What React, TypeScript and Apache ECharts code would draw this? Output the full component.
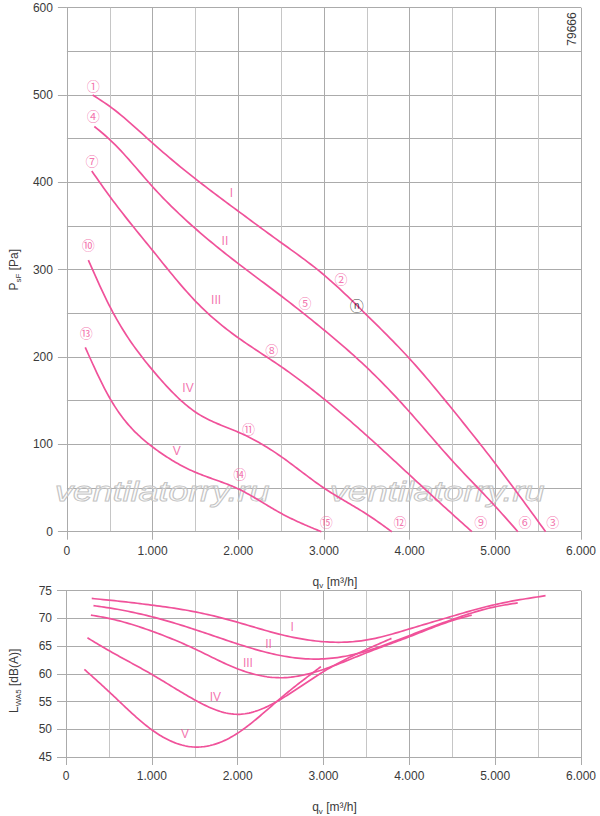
import React, { useEffect, useRef } from "react";
import * as echarts from "echarts";

// ---------- Data ----------
// Pressure curves P_sF [Pa] vs q_v [m3/h]
const pressureI: number[][] = [[300, 500], [500, 487], [1000, 445], [1500, 404], [2000, 367], [2500, 331], [3000, 294], [3500, 248], [4000, 198], [4500, 140], [5000, 78], [5587, 0]];
const pressureII: number[][] = [[320, 464], [500, 449], [1000, 395], [1500, 347], [2000, 307], [2500, 270], [3000, 231], [3500, 188], [4000, 137], [4500, 81], [5000, 29], [5263, 0]];
const pressureIII: number[][] = [[290, 413], [500, 384], [1000, 322], [1500, 264], [2000, 222], [2500, 189], [3000, 152], [3500, 110], [4000, 65], [4500, 20], [4727, 0]];
const pressureIV: number[][] = [[250, 311], [500, 258], [1000, 185], [1500, 137], [2000, 114], [2500, 86], [3000, 50], [3500, 20], [3792, 0]];
const pressureV: number[][] = [[214, 211], [500, 153], [1000, 97], [1500, 68], [2000, 49], [2500, 21], [2970, 0]];

// Sound power L_WA5 [dB(A)] vs q_v [m3/h]
const noiseI: number[][] = [[300, 73.6], [500, 73.3], [1000, 72.4], [1500, 71.2], [2000, 69.3], [2500, 67.1], [3000, 65.8], [3500, 66.1], [4000, 68.1], [4500, 70.4], [5000, 72.5], [5587, 74.1]];
const noiseII: number[][] = [[320, 72.3], [500, 71.9], [1000, 70.3], [1500, 68.0], [2000, 65.4], [2500, 63.3], [3000, 62.7], [3500, 64.1], [4000, 66.9], [4500, 69.8], [5000, 72.1], [5263, 72.8]];
const noiseIII: number[][] = [[290, 70.6], [500, 70.0], [1000, 67.7], [1500, 64.5], [2000, 60.9], [2500, 59.3], [3000, 60.8], [3500, 63.8], [4000, 66.7], [4500, 69.6], [4727, 70.6]];
const noiseIV: number[][] = [[250, 66.5], [500, 64.2], [1000, 59.9], [1500, 55.3], [2000, 52.7], [2500, 55.4], [3000, 60.4], [3500, 64.4], [3792, 66.4]];
const noiseV: number[][] = [[214, 60.8], [500, 56.8], [1000, 49.9], [1500, 46.8], [2000, 49.3], [2500, 55.6], [2970, 61.3]];

// Curve labels (Roman numerals) and operating point markers
const pressureRoman: (number | string)[][] = [[1921, 388, "I"], [1844, 333, "II"], [1741, 265, "III"], [1413, 164, "IV"], [1283, 92, "V"]];
const pressurePoints: (number | string)[][] = [
  [306, 511, "①"], [3200, 290, "②"], [5670, 11.5, "③"],
  [306, 476, "④"], [2780, 262, "⑤"], [5346, 11.5, "⑥"],
  [294, 425, "⑦"], [2391, 209, "⑧"], [4831, 11.5, "⑨"],
  [249, 329, "⑩"], [2120, 118, "⑪"], [3887, 11.5, "⑫"],
  [226, 228, "⑬"], [2016, 67, "⑭"], [3028, 11.5, "⑮"],
];
const efficiencyPoint: (number | string)[][] = [[3384, 260, "ⓝ"]];
const noiseRoman: (number | string)[][] = [[2635, 68.4, "I"], [2360, 65.4, "II"], [2119, 61.9, "III"], [1741, 55.9, "IV"], [1386, 49.2, "V"]];

const xMin = 0, xMax = 6000, xStep = 1000;
const pMin = 0, pMax = 600, pStep = 100;
const lMin = 45, lMax = 75, lStep = 5;

// ---------- Styles ----------
const PINK = "#f0529a";
const GRID = "#ababab";
const GRID_MINOR = "#c6c6c6";
const TXT = "#3a3a3a";
const FONT = "Liberation Sans, Arial, sans-serif";

const fmtThousands = (v: number) => {
  if (v === 0) return "0";
  const s = String(Math.round(v));
  return s.replace(/\B(?=(\d{3})+(?!\d))/g, ".");
};

const nameRich = {
  a: { fontSize: 12, color: TXT, fontFamily: FONT, lineHeight: 16, verticalAlign: "middle" },
  s: { fontSize: 8, color: TXT, fontFamily: FONT, lineHeight: 16, verticalAlign: "bottom", padding: [6, 0, 0, 0] },
};

// Natural cubic spline through the read points (y as a function of x)
function naturalSpline(pts: number[][]) {
  const n = pts.length;
  const xs = pts.map((p) => p[0]);
  const ys = pts.map((p) => p[1]);
  const h: number[] = [];
  for (let i = 0; i < n - 1; i++) h.push(xs[i + 1] - xs[i]);
  const M = new Array(n).fill(0);
  if (n > 2) {
    const m = n - 2;
    const a = new Array(m).fill(0), b = new Array(m).fill(0), c = new Array(m).fill(0), d = new Array(m).fill(0);
    for (let k = 0; k < m; k++) {
      const i = k + 1;
      a[k] = h[i - 1];
      b[k] = 2 * (h[i - 1] + h[i]);
      c[k] = h[i];
      d[k] = 6 * ((ys[i + 1] - ys[i]) / h[i] - (ys[i] - ys[i - 1]) / h[i - 1]);
    }
    for (let k = 1; k < m; k++) {
      const w = a[k] / b[k - 1];
      b[k] -= w * c[k - 1];
      d[k] -= w * d[k - 1];
    }
    const sol = new Array(m).fill(0);
    sol[m - 1] = d[m - 1] / b[m - 1];
    for (let k = m - 2; k >= 0; k--) sol[k] = (d[k] - c[k] * sol[k + 1]) / b[k];
    for (let k = 0; k < m; k++) M[k + 1] = sol[k];
  }
  return (x: number) => {
    let i = 0;
    while (i < n - 2 && x > xs[i + 1]) i++;
    const hi = h[i];
    const A = xs[i + 1] - x;
    const B = x - xs[i];
    return (
      (M[i] * A * A * A) / (6 * hi) +
      (M[i + 1] * B * B * B) / (6 * hi) +
      (ys[i] / hi - (M[i] * hi) / 6) * A +
      (ys[i + 1] / hi - (M[i + 1] * hi) / 6) * B
    );
  };
}

export default function App() {
  const ref = useRef<HTMLDivElement>(null);

  useEffect(() => {
    if (!ref.current) return;
    const chart = echarts.init(ref.current, undefined, { renderer: "svg" });

    const xAxisBase = (gridIndex: number) => ({
      gridIndex,
      type: "value",
      min: xMin,
      max: xMax,
      interval: xStep,
      name: "{a|q}{s|v}{a| [m³/h]}",
      nameLocation: "middle",
      nameGap: 42,
      nameTextStyle: { rich: nameRich, padding: [0, 0, 0, 22] },
      axisLine: { show: true, lineStyle: { color: GRID, width: 1 } },
      axisTick: { show: true, length: 8, lineStyle: { color: GRID, width: 1 } },
      axisLabel: { color: TXT, fontSize: 12, fontFamily: FONT, margin: 13, formatter: fmtThousands },
      splitLine: { show: true, lineStyle: { color: GRID, width: 1 } },
      minorTick: { show: false, splitNumber: 2 },
      minorSplitLine: { show: true, lineStyle: { color: GRID_MINOR, width: 1 } },
    });

    const curveSeries = (data: number[][], idx: number) => {
      const f = naturalSpline(data);
      const x0 = data[0][0];
      const x1 = data[data.length - 1][0];
      return {
        type: "custom",
        xAxisIndex: idx,
        yAxisIndex: idx,
        data,
        silent: true,
        z: 3,
        renderItem: (params: any, api: any) => {
          if (params.dataIndex !== 0) return null;
          const points: number[][] = [];
          const N = 160;
          for (let k = 0; k <= N; k++) {
            const x = x0 + ((x1 - x0) * k) / N;
            points.push(api.coord([x, f(x)]));
          }
          return {
            type: "polyline",
            shape: { points },
            style: { stroke: PINK, lineWidth: 1.7, fill: "none", lineJoin: "round" },
          };
        },
      };
    };

    const labelSeries = (data: (number | string)[][], idx: number, color: string, size: number, family: string) => ({
      type: "scatter",
      xAxisIndex: idx,
      yAxisIndex: idx,
      data,
      symbolSize: 1,
      itemStyle: { color: "transparent" },
      silent: true,
      z: 4,
      label: {
        show: true,
        position: "inside",
        formatter: (p: any) => p.data[2],
        color,
        fontSize: size,
        fontFamily: family,
      },
    });

    const option: any = {
      animation: false,
      backgroundColor: "#ffffff",
      grid: [
        { left: 57.3, top: 7.7, width: 523.7, height: 524 },
        { left: 57.3, top: 590.7, width: 523.7, height: 174.6 },
      ],
      xAxis: [xAxisBase(0), xAxisBase(1)],
      yAxis: [
        {
          gridIndex: 0,
          type: "value",
          min: pMin,
          max: pMax,
          interval: pStep,
          name: "{a|P}{s|sF}{a| [Pa]}",
          nameLocation: "middle",
          nameGap: 44,
          nameTextStyle: { rich: nameRich },
          axisLine: { show: true, lineStyle: { color: GRID, width: 1 } },
          axisTick: { show: true, length: 9, lineStyle: { color: GRID, width: 1 } },
          axisLabel: { color: TXT, fontSize: 12, fontFamily: FONT, margin: 14 },
          splitLine: { show: true, lineStyle: { color: GRID, width: 1 } },
          minorTick: { show: false, splitNumber: 2 },
          minorSplitLine: { show: true, lineStyle: { color: GRID, width: 1 } },
        },
        {
          gridIndex: 1,
          type: "value",
          min: lMin,
          max: lMax,
          interval: lStep,
          name: "{a|L}{s|WA5}{a| [dB(A)]}",
          nameLocation: "middle",
          nameGap: 44,
          nameTextStyle: { rich: nameRich, padding: [0, 14, 0, 0] },
          axisLine: { show: true, lineStyle: { color: GRID, width: 1 } },
          axisTick: { show: true, length: 9, lineStyle: { color: GRID, width: 1 } },
          axisLabel: { color: TXT, fontSize: 12, fontFamily: FONT, margin: 14 },
          splitLine: { show: true, lineStyle: { color: GRID, width: 1 } },
        },
      ],
      graphic: [
        {
          type: "text",
          x: 572,
          y: 29,
          rotation: Math.PI / 2,
          style: { text: "79666", fontSize: 12, fontFamily: FONT, fill: TXT, align: "center", verticalAlign: "middle" },
          z: 5,
        },
        {
          type: "text",
          x: 55,
          y: 491,
          scaleX: 1.28,
          style: {
            text: "ventilatorry.ru",
            fontSize: 28,
            fontStyle: "italic",
            fontFamily: FONT,
            fill: "rgba(255,255,255,0.25)",
            stroke: "#bdbdbd",
            lineWidth: 1,
            align: "left",
            verticalAlign: "middle",
          },
          z: 1,
        },
        {
          type: "text",
          x: 330,
          y: 491,
          scaleX: 1.28,
          style: {
            text: "ventilatorry.ru",
            fontSize: 28,
            fontStyle: "italic",
            fontFamily: FONT,
            fill: "rgba(255,255,255,0.25)",
            stroke: "#bdbdbd",
            lineWidth: 1,
            align: "left",
            verticalAlign: "middle",
          },
          z: 1,
        },
      ],
      series: [
        curveSeries(pressureI, 0),
        curveSeries(pressureII, 0),
        curveSeries(pressureIII, 0),
        curveSeries(pressureIV, 0),
        curveSeries(pressureV, 0),
        curveSeries(noiseI, 1),
        curveSeries(noiseII, 1),
        curveSeries(noiseIII, 1),
        curveSeries(noiseIV, 1),
        curveSeries(noiseV, 1),
        labelSeries(pressureRoman, 0, PINK, 12, FONT),
        labelSeries(pressurePoints, 0, PINK, 13, "Noto Sans CJK SC"),
        labelSeries(efficiencyPoint, 0, "#222222", 14, "Noto Sans CJK SC"),
        labelSeries(noiseRoman, 1, PINK, 12, FONT),
      ],
    };

    chart.setOption(option);
    return () => chart.dispose();
  }, []);

  return (
    <div
      ref={ref}
      style={{ position: "fixed", left: 0, top: 0, width: 600, height: 816, background: "#fff" }}
    />
  );
}
